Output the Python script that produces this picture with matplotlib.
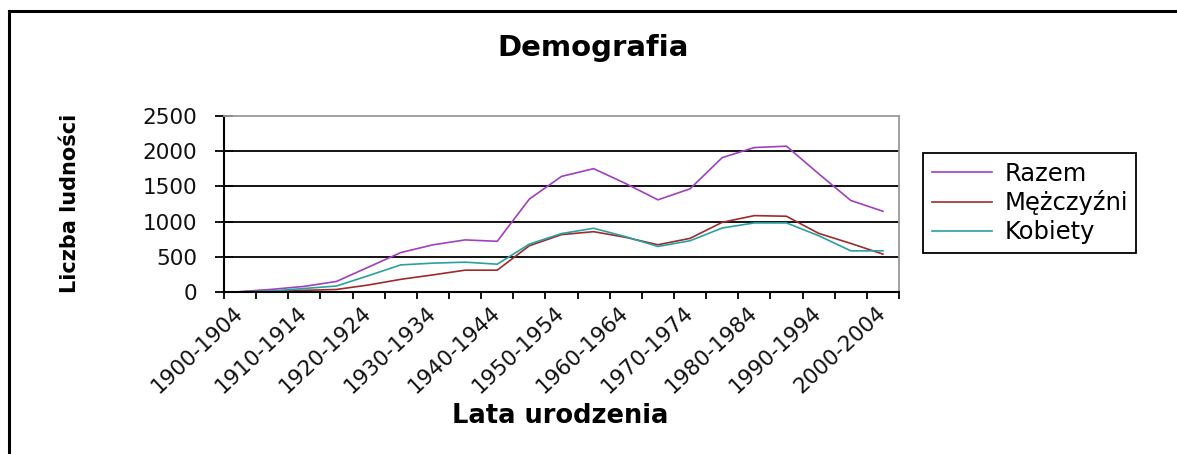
import matplotlib
matplotlib.use("Agg")
import matplotlib.pyplot as plt
from matplotlib.lines import Line2D
import numpy as np

categories = ['1900-1904', '1905-1909', '1910-1914', '1915-1919', '1920-1924',
              '1925-1929', '1930-1934', '1935-1939', '1940-1944', '1945-1949',
              '1950-1954', '1955-1959', '1960-1964', '1965-1969', '1970-1974',
              '1975-1979', '1980-1984', '1985-1989', '1990-1994', '1995-1999',
              '2000-2004']
razem = [5, 38, 80, 150, 355, 560, 670, 740, 720, 1320, 1642, 1752, 1540,
         1309, 1466, 1909, 2052, 2071, 1680, 1300, 1147]
mezczyzni = [2, 10, 24, 36, 100, 180, 243, 310, 310, 657, 815, 857, 776,
             671, 762, 990, 1085, 1076, 833, 690, 538]
kobiety = [3, 15, 50, 85, 233, 385, 410, 424, 395, 680, 830, 905, 785,
           647, 728, 909, 981, 981, 800, 585, 585]
series_names = ['Razem', 'Mężczyźni', 'Kobiety']
series_colors = ['#A040C0', '#9E2B2B', '#2AA0A0']
y_ticks = [0, 500, 1000, 1500, 2000, 2500]

plt.rcParams['font.family'] = ['DejaVu Sans']

W, H = 1177, 454
fig = plt.figure(figsize=(W / 100, H / 100), dpi=100)
ax = fig.add_axes([224 / W, 1 - 292 / H, (899 - 224) / W, (292 - 116) / H])

x = np.arange(len(categories))
for vals, name, col in zip([razem, mezczyzni, kobiety], series_names, series_colors):
    ax.plot(x, vals, color=col, lw=1.2, label=name, solid_joinstyle='round')

ax.set_xlim(-0.5, len(categories) - 0.5)
ax.set_ylim(0, 2500)
ax.set_yticks(y_ticks)
ax.set_yticklabels([str(v) for v in y_ticks], fontsize=15.5, color='#111111')
for v in y_ticks[1:-1]:
    ax.axhline(v, color='black', lw=1.3, zorder=0)

# major ticks at category boundaries, labels on minor ticks at centres
ax.set_xticks(np.arange(-0.5, len(categories), 1.0))
ax.set_xticklabels([])
ax.set_xticks(x[::2], minor=True)
ax.set_xticklabels([categories[i] for i in x[::2]], minor=True,
                   rotation=43, ha='right', va='center', rotation_mode='anchor',
                   fontsize=15.5, color='#111111')
ax.tick_params(axis='x', which='major', direction='out', length=5, width=1.3)
ax.tick_params(axis='x', which='minor', length=0, pad=13)
ax.tick_params(axis='y', which='major', direction='inout', length=13, width=1.3, pad=13)

for s in ['left', 'bottom']:
    ax.spines[s].set_color('black')
    ax.spines[s].set_linewidth(1.5)
for s in ['top', 'right']:
    ax.spines[s].set_color('#9a9a9a')
    ax.spines[s].set_linewidth(1.3)

fig.text(593 / W, 1 - 48 / H, 'Demografia', ha='center', va='center',
         fontsize=21, fontweight='bold')
fig.text(560 / W, 1 - 416 / H, 'Lata urodzenia', ha='center', va='center',
         fontsize=18.5, fontweight='bold')
fig.text(70 / W, 1 - 203 / H, 'Liczba ludności', ha='center', va='center',
         rotation=90, fontsize=15, fontweight='bold')

leg = fig.legend(loc='upper left', bbox_to_anchor=(923 / W, 1 - 153 / H),
                 bbox_transform=fig.transFigure, borderaxespad=0, fontsize=17.5,
                 handlelength=2.5, handletextpad=0.5, labelspacing=0.2,
                 borderpad=0.35, fancybox=False, shadow=False, framealpha=1,
                 edgecolor='black')
leg.get_frame().set_linewidth(1.3)

# outer chart frame (top and left edges)
fig.add_artist(Line2D([9 / W, 9 / W], [0, 1 - 11 / H], transform=fig.transFigure,
                      color='black', lw=2.2))
fig.add_artist(Line2D([9 / W, 1], [1 - 11 / H, 1 - 11 / H], transform=fig.transFigure,
                      color='black', lw=2.2))

fig.savefig('out.png', dpi=100)
